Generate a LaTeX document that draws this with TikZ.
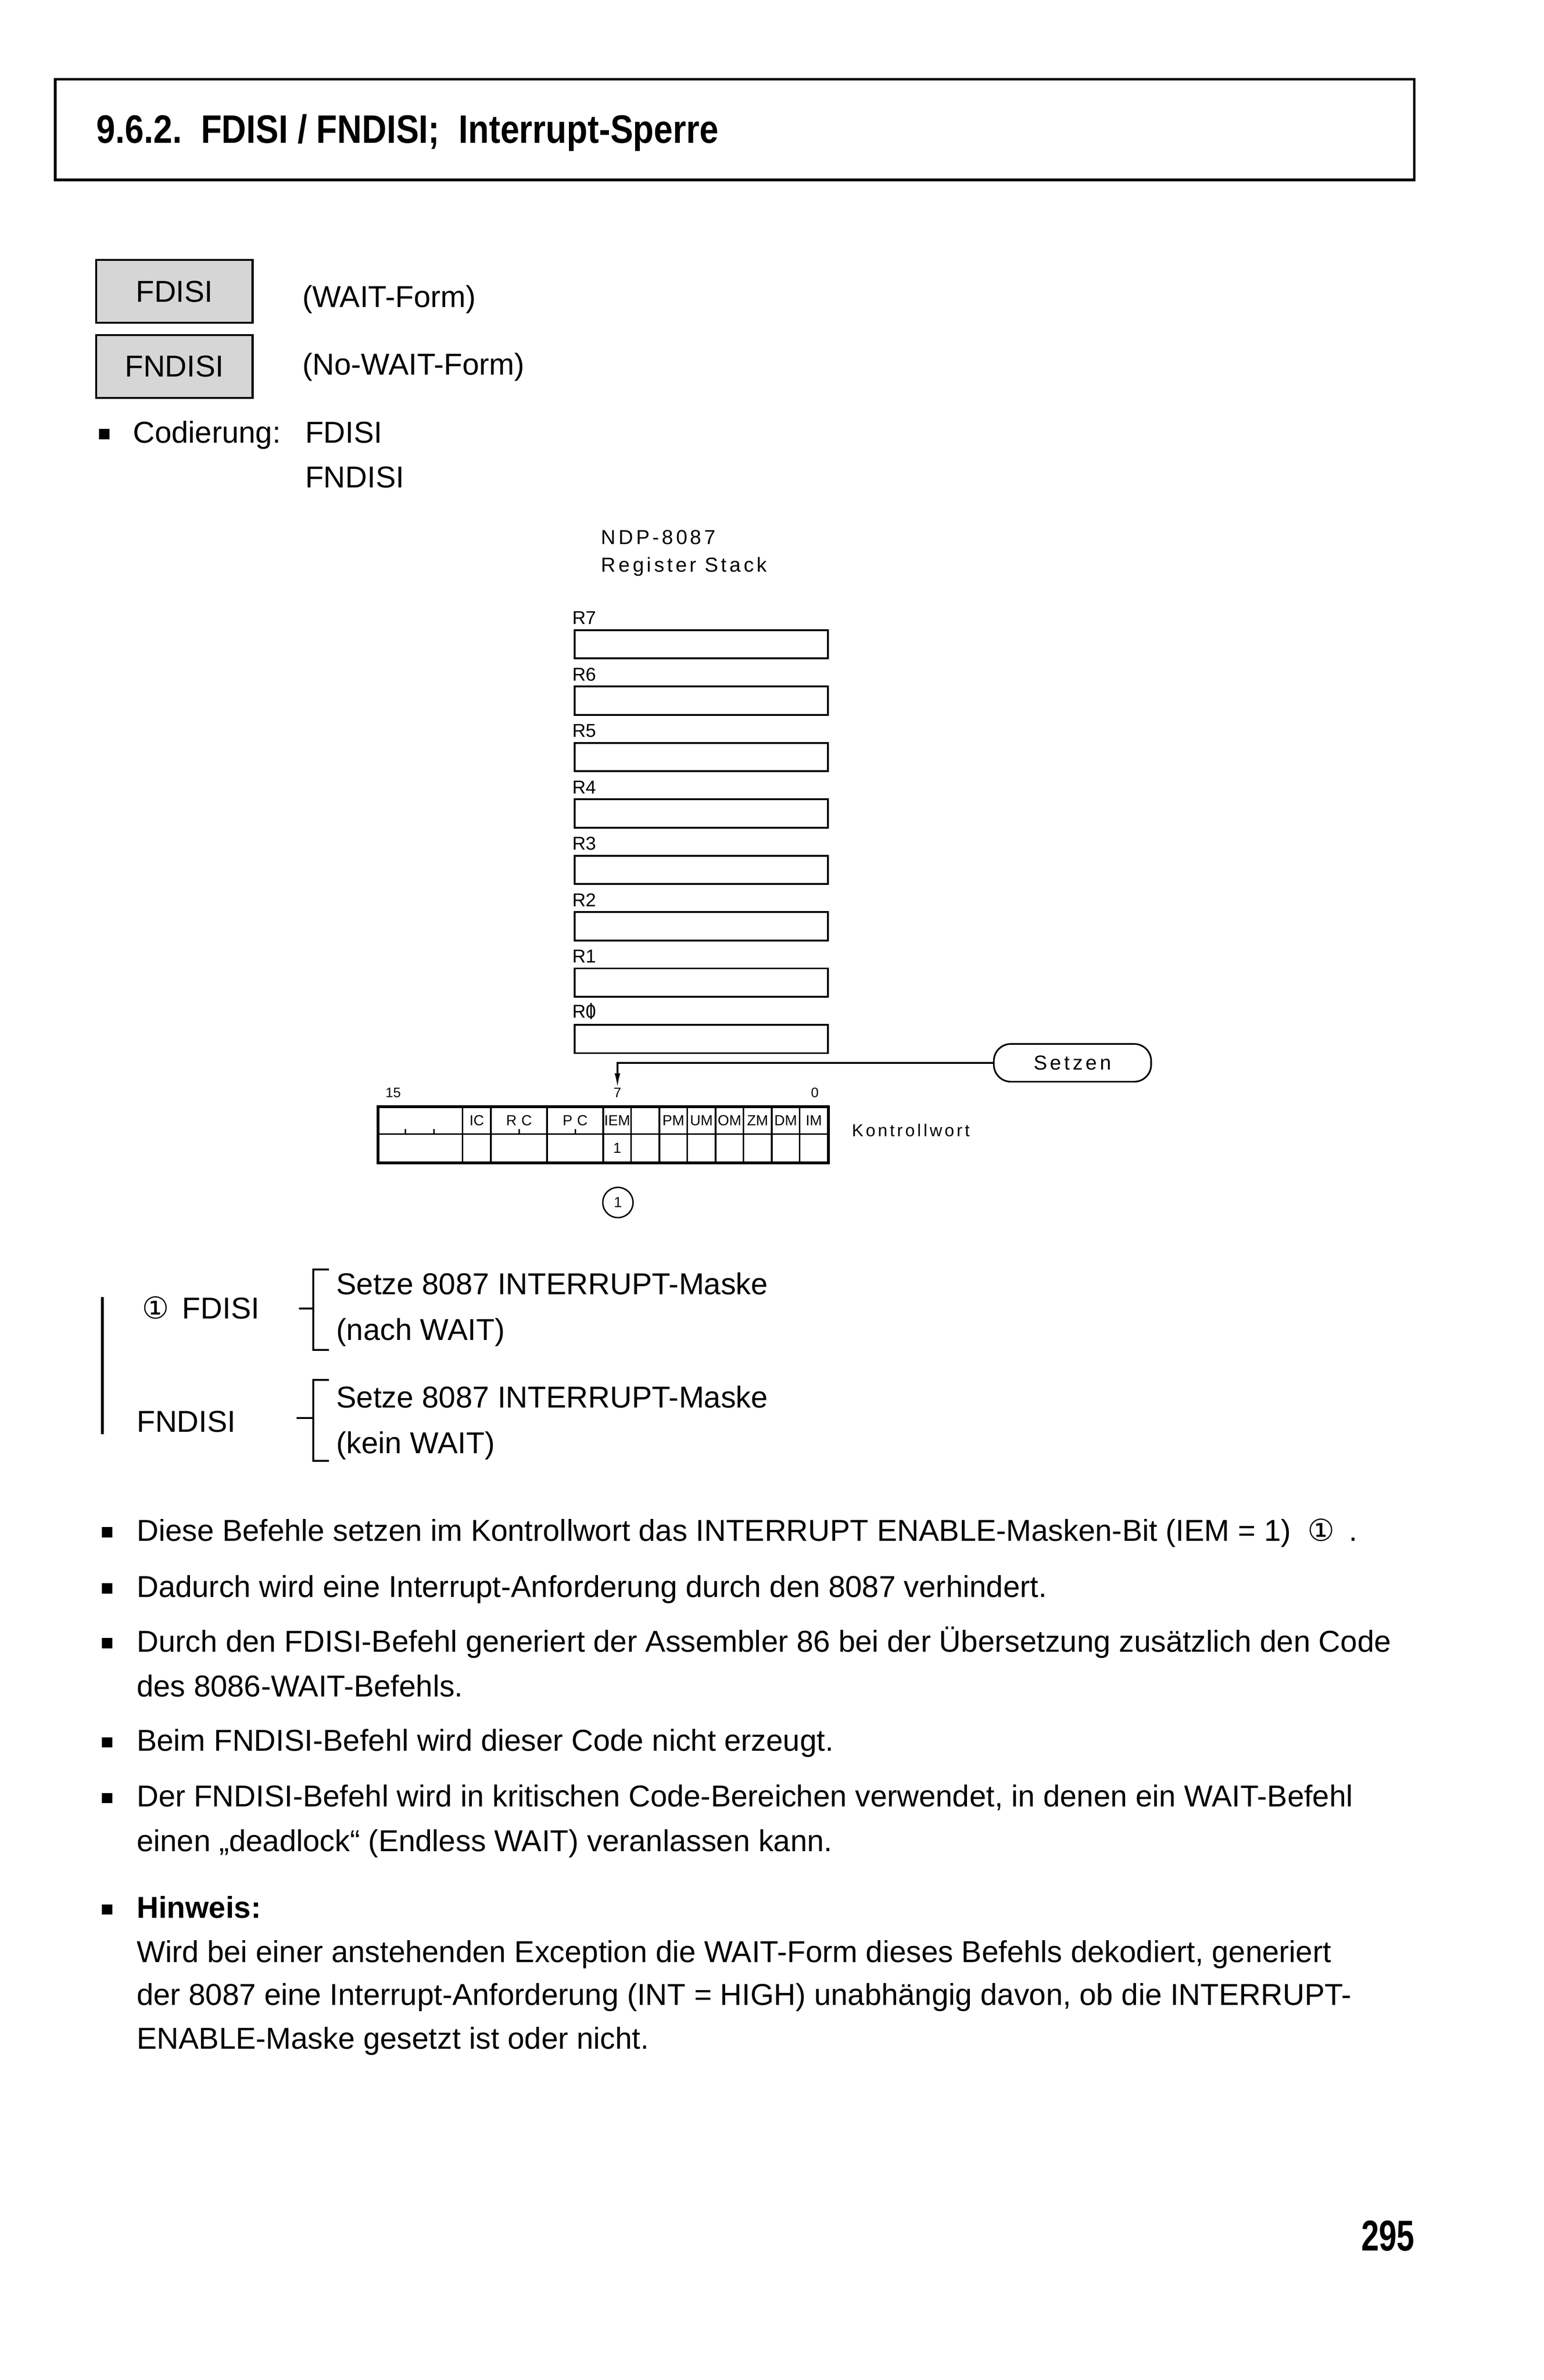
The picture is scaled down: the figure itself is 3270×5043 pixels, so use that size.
\documentclass[tikz,border=0pt]{standalone}
\usepackage{fontspec}
\setmainfont{Liberation Sans}
\newfontfamily\spacedfont{Liberation Sans}[LetterSpace=14]
\newfontfamily\headfont{Liberation Sans}[FakeStretch=0.86]
\newfontfamily\pagefont{Liberation Sans}[FakeStretch=0.74]
\newfontfamily\symfont{DejaVu Sans}
\usetikzlibrary{shapes,arrows.meta,positioning,calc}

\newcommand{\bodysize}{\fontsize{18.2}{22}\selectfont}
\newcommand{\regsize}{\fontsize{11.2}{13}\selectfont}
\newcommand{\fieldsize}{\fontsize{8.8}{10}\selectfont}
\newcommand{\slzero}{\ooalign{0\cr\hidewidth\rule[-0.08em]{0.07em}{0.88em}\hidewidth\cr}}

\begin{document}
\begin{tikzpicture}[
    x=0.01cm, y=-0.01cm,
    bodytext/.style={anchor=base west, inner sep=0, font=\bodysize},
    bullet/.style={rectangle, fill=black, minimum size=0.22cm, inner sep=0},
    formbox/.style={rectangle, draw, line width=0.045cm, fill=black!16, minimum width=3.31cm, minimum height=1.33cm, font=\bodysize},
    regbox/.style={rectangle, draw, line width=0.04cm, minimum width=5.36cm, minimum height=0.60cm},
    reglabel/.style={inner sep=0, font=\regsize},
    field/.style={rectangle, draw, line width=0.035cm, minimum height=0.57cm, inner sep=0, font=\fieldsize},
    lowfield/.style={field, minimum height=0.60cm},
    bitnum/.style={inner sep=0, font=\fontsize{8.3}{10}\selectfont},
    bracket/.style={line width=0.04cm},
    arrow/.style={-{Latex[length=0.30cm, width=0.12cm]}, line width=0.035cm}
]
\useasboundingbox (0,0) rectangle (3270,5043);

% Heading
\node[draw, line width=0.055cm, minimum width=28.77cm, minimum height=2.13cm] (titlebox) at (1556.5,274.5) {};
\node[anchor=base west, inner sep=0, font=\fontsize{23.9}{28}\headfont\bfseries\selectfont] (title) at (204,303)
    {9.6.2.\ \ FDISI / FNDISI;\ \ Interrupt-Sperre};

% Mnemonics
\node[formbox] (fdisibox) at (369.5,617.5) {FDISI};
\node[formbox] (fndisibox) at (369.5,776.5) {FNDISI};
\node[bodytext] (waitform) at (640,651) {(WAIT-Form)};
\node[bodytext] (nowaitform) at (640,794) {(No-WAIT-Form)};

% Codierung
\node[bullet] (bcod) at (221,920) {};
\node[bodytext] (codierung) at (281,938) {Codierung:};
\node[bodytext] (codfdisi) at (646,938) {FDISI};
\node[bodytext] (codfndisi) at (646,1033) {FNDISI};

% Register stack
\node[anchor=base west, inner sep=0, font=\fontsize{12.2}{14}\spacedfont\selectfont] (ndp) at (1273,1153) {NDP-8087};
\node[anchor=base west, inner sep=0, font=\fontsize{12.2}{14}\spacedfont\selectfont] (regstack) at (1273,1212) {Register Stack};

\node[regbox] (reg7) at (1486,1365) {};
\node[regbox] (reg6) at (1486,1484.5) {};
\node[regbox] (reg5) at (1486,1604) {};
\node[regbox] (reg4) at (1486,1723.5) {};
\node[regbox] (reg3) at (1486,1843) {};
\node[regbox] (reg2) at (1486,1962.5) {};
\node[regbox] (reg1) at (1486,2082) {};
\node[regbox] (reg0) at (1486,2201.5) {};

\node[reglabel, above right=0.09cm and -0.04cm of reg7.north west] (lr7) {R7};
\node[reglabel, above right=0.09cm and -0.04cm of reg6.north west] (lr6) {R6};
\node[reglabel, above right=0.09cm and -0.04cm of reg5.north west] (lr5) {R5};
\node[reglabel, above right=0.09cm and -0.04cm of reg4.north west] (lr4) {R4};
\node[reglabel, above right=0.09cm and -0.04cm of reg3.north west] (lr3) {R3};
\node[reglabel, above right=0.09cm and -0.04cm of reg2.north west] (lr2) {R2};
\node[reglabel, above right=0.09cm and -0.04cm of reg1.north west] (lr1) {R1};
\node[reglabel, above right=0.09cm and -0.04cm of reg0.north west] (lr0) {R\slzero};

% Setzen
\node[draw, line width=0.035cm, rounded corners=0.36cm, minimum width=3.33cm, minimum height=0.80cm,
    font=\fontsize{12.2}{14}\spacedfont\selectfont] (setzen) at (2272,2252) {Setzen};

% Bit numbers
\node[bitnum] (bit15) at (833,2315) {15};
\node[bitnum] (bit7) at (1308,2315) {7};
\node[bitnum] (bit0) at (1726,2315) {0};

% Control word, upper row
\node[field, minimum width=1.78cm] (res) at (891,2374.5) {};
\node[field, minimum width=0.60cm] (ic) at (1010,2374.5) {IC};
\node[field, minimum width=1.19cm] (rc) at (1099.5,2374.5) {R\hspace{0.1cm}C};
\node[field, minimum width=1.19cm] (pc) at (1218.5,2374.5) {P\hspace{0.1cm}C};
\node[field, minimum width=0.59cm] (iem) at (1307.5,2374.5) {IEM};
\node[field, minimum width=0.60cm] (b6) at (1367,2374.5) {};
\node[field, minimum width=0.59cm] (pm) at (1426.5,2374.5) {PM};
\node[field, minimum width=0.60cm] (um) at (1486,2374.5) {UM};
\node[field, minimum width=0.59cm] (om) at (1545.5,2374.5) {OM};
\node[field, minimum width=0.60cm] (zm) at (1605,2374.5) {ZM};
\node[field, minimum width=0.59cm] (dm) at (1664.5,2374.5) {DM};
\node[field, minimum width=0.60cm] (im) at (1724,2374.5) {IM};

% Control word, lower row
\node[lowfield, minimum width=1.78cm] (resl) at (891,2433) {};
\node[lowfield, minimum width=0.60cm] (icl) at (1010,2433) {};
\node[lowfield, minimum width=1.19cm] (rcl) at (1099.5,2433) {};
\node[lowfield, minimum width=1.19cm] (pcl) at (1218.5,2433) {};
\node[lowfield, minimum width=0.59cm] (ieml) at (1307.5,2433) {1};
\node[lowfield, minimum width=0.60cm] (b6l) at (1367,2433) {};
\node[lowfield, minimum width=0.59cm] (pml) at (1426.5,2433) {};
\node[lowfield, minimum width=0.60cm] (uml) at (1486,2433) {};
\node[lowfield, minimum width=0.59cm] (oml) at (1545.5,2433) {};
\node[lowfield, minimum width=0.60cm] (zml) at (1605,2433) {};
\node[lowfield, minimum width=0.59cm] (dml) at (1664.5,2433) {};
\node[lowfield, minimum width=0.60cm] (iml) at (1724,2433) {};

\draw[line width=0.05cm] (res.north west) rectangle (iml.south east);
\draw[line width=0.03cm] (res.south west) ++(59,0) -- ++(0,-12);
\draw[line width=0.03cm] (res.south west) ++(119,0) -- ++(0,-12);
\draw[line width=0.03cm] (rc.south) -- ++(0,-12);
\draw[line width=0.03cm] (pc.south) -- ++(0,-12);

\node[anchor=base west, inner sep=0, font=\fontsize{10.4}{12}\spacedfont\selectfont] (kwort) at (1804,2408) {Kontrollwort};

\node[circle, draw, line width=0.03cm, minimum size=0.64cm, inner sep=0, font=\fieldsize] (mark1) at (1309,2548) {1};

% Setzen arrow
\draw[arrow] (setzen.west) -| (bit7.north);

% Summary
\draw[line width=0.06cm] (217,2748) -- (217,3039);
\node[bodytext] (sumfdisi) at (300,2794) {{\symfont ①}\hspace{0.28cm}FDISI};
\node[bodytext] (sumfndisi) at (289,3034) {FNDISI};

\draw[bracket] (633,2773) -- (664,2773);
\draw[bracket] (697,2690) -- (664,2690) -- (664,2860) -- (697,2860);
\node[bodytext] (setze1) at (712,2743) {Setze 8087 INTERRUPT-Maske};
\node[bodytext] (nach) at (712,2840) {(nach WAIT)};

\draw[bracket] (628,3005) -- (664,3005);
\draw[bracket] (697,2924) -- (664,2924) -- (664,3095) -- (697,3095);
\node[bodytext] (setze2) at (712,2983) {Setze 8087 INTERRUPT-Maske};
\node[bodytext] (kein) at (712,3080) {(kein WAIT)};

% Notes
\node[bullet] (b1) at (227,3247) {};
\node[bodytext] (line1) at (289,3265) {Diese Befehle setzen im Kontrollwort das INTERRUPT ENABLE-Masken-Bit (IEM = 1)\hspace{0.35cm}{\symfont ①}\hspace{0.3cm}.};
\node[bullet] (b2) at (227,3366) {};
\node[bodytext] (line2) at (289,3384) {Dadurch wird eine Interrupt-Anforderung durch den 8087 verhindert.};
\node[bullet] (b3) at (227,3482) {};
\node[bodytext] (line3) at (289,3500) {Durch den FDISI-Befehl generiert der Assembler 86 bei der Übersetzung zusätzlich den Code};
\node[bodytext] (line4) at (289,3595) {des 8086-WAIT-Befehls.};
\node[bullet] (b4) at (227,3692) {};
\node[bodytext] (line5) at (289,3710) {Beim FNDISI-Befehl wird dieser Code nicht erzeugt.};
\node[bullet] (b5) at (227,3810) {};
\node[bodytext] (line6) at (289,3828) {Der FNDISI-Befehl wird in kritischen Code-Bereichen verwendet, in denen ein WAIT-Befehl};
\node[bodytext] (line7) at (289,3923) {einen „deadlock“ (Endless WAIT) veranlassen kann.};

% Hinweis
\node[bullet] (b6n) at (227,4046) {};
\node[bodytext, font=\bodysize\bfseries] (hinweis) at (289,4064) {Hinweis:};
\node[bodytext] (line8) at (289,4158) {Wird bei einer anstehenden Exception die WAIT-Form dieses Befehls dekodiert, generiert};
\node[bodytext] (line9) at (289,4249) {der 8087 eine Interrupt-Anforderung (INT = HIGH) unabhängig davon, ob die INTERRUPT-};
\node[bodytext] (line10) at (289,4341) {ENABLE-Maske gesetzt ist oder nicht.};

% Page number
\node[anchor=base west, inner sep=0, font=\fontsize{26}{30}\pagefont\bfseries\selectfont] (pagenum) at (2883,4769) {295};

\end{tikzpicture}
\end{document}
